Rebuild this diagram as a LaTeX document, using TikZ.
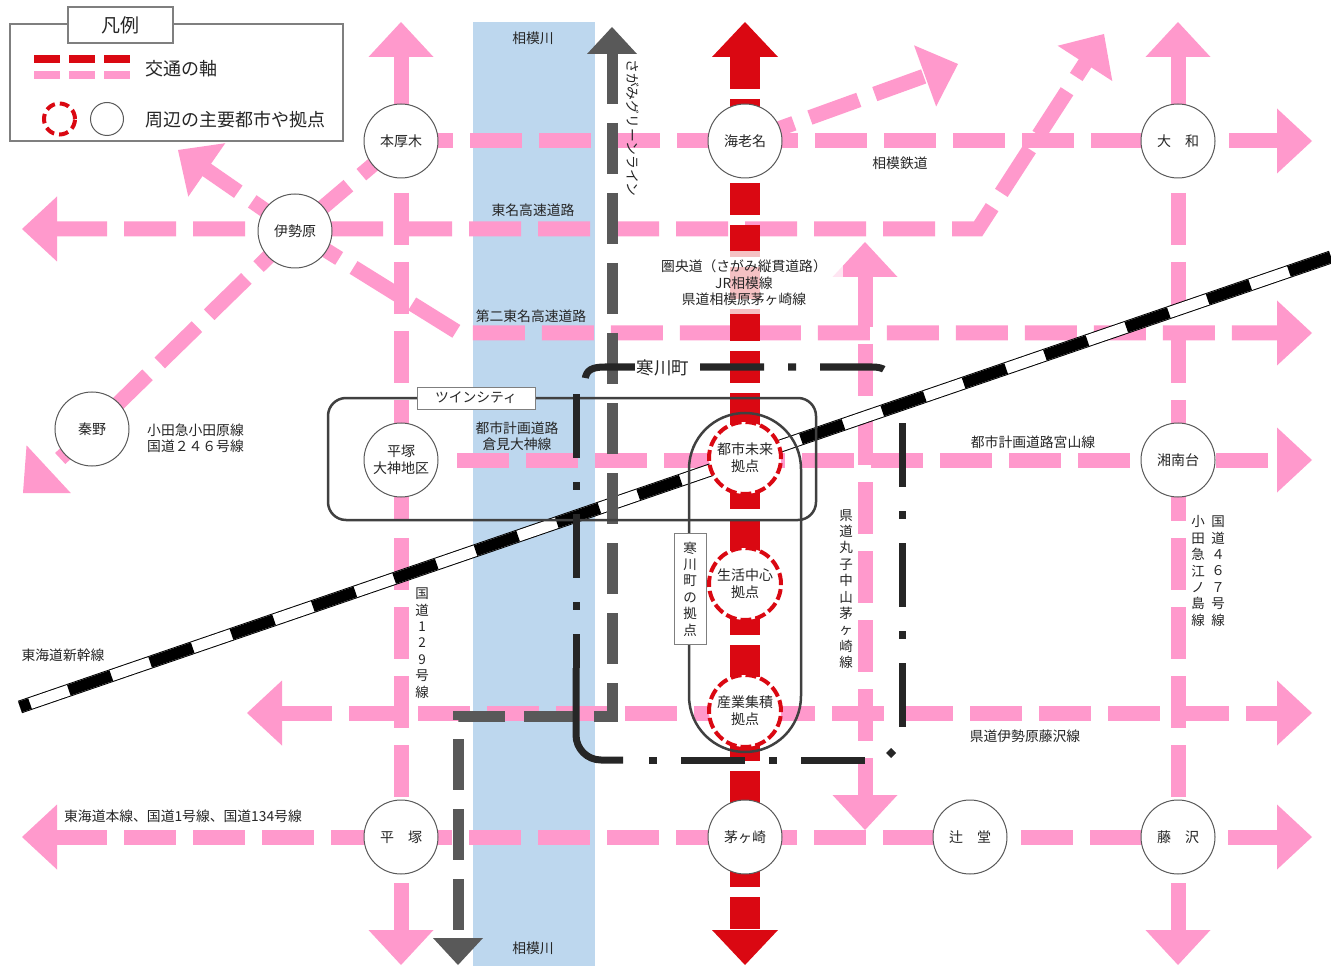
\documentclass[tikz,border=0pt]{standalone}
\usepackage{fontspec}
\setmainfont{Noto Sans CJK JP}
\usetikzlibrary{calc}
\pgfdeclarelayer{river}
\pgfdeclarelayer{roads}
\pgfdeclarelayer{redl}
\pgfdeclarelayer{over}
\pgfsetlayers{river,roads,redl,over,main}
\definecolor{pinkc}{HTML}{FF99CC}
\definecolor{redc}{HTML}{DA0812}
\definecolor{riverc}{HTML}{BDD7EE}
\definecolor{grayl}{HTML}{595959}
\definecolor{blk}{HTML}{262626}
\definecolor{boxl}{HTML}{404040}
\definecolor{txt}{HTML}{262626}
\definecolor{nodeb}{HTML}{595959}
\definecolor{legb}{HTML}{7F7F7F}
\newcommand\ahead[5]{%
  \coordinate (htB) at ($(#2)!#4!(#3)$);
  \fill[#1] (#2) -- ($(htB)!#5!90:(#2)$) -- ($(htB)!#5!-90:(#2)$) -- cycle;}
\begin{document}
\begin{tikzpicture}[x=1pt,y=-1pt,
  pinkroad/.style={draw=pinkc, line width=15pt, dash pattern=on 52pt off 17pt, line cap=butt},
  redroad/.style={draw=redc, line width=30pt, dash pattern=on 32pt off 10pt, line cap=butt},
  greenline/.style={draw=grayl, line width=11pt, dash pattern=on 51pt off 19pt, line cap=butt},
  sam/.style={draw=blk, line width=7pt, dash pattern=on 64pt off 24pt on 8pt off 24pt, line cap=butt},
  city/.style={circle, draw=nodeb, line width=1pt, fill=white, minimum size=74pt, inner sep=0pt,
    font=\fontsize{14}{17}\selectfont, text=txt, align=center},
  hub/.style={circle, draw=redc, line width=4pt, dash pattern=on 11pt off 4pt, fill=white,
    minimum size=72pt, inner sep=0pt, font=\fontsize{14}{17}\selectfont, text=txt, align=center},
  lbl/.style={font=\fontsize{13.8}{16.5}\selectfont, text=txt, inner sep=1pt},
  vlbl/.style={font=\fontsize{13.5}{16.4}\selectfont, text=txt, align=center, inner sep=1pt}]
\useasboundingbox (0,0) rectangle (1331,968);

% ---------- nodes ----------
\node[city] (hon) at (401,141) {本厚木};
\node[city] (ebi) at (745,141) {海老名};
\node[city] (yam) at (1178,141) {大　和};
\node[city] (ise) at (295,231) {伊勢原};
\node[city] (hat) at (92,429) {秦野};
\node[city] (hir2) at (401,460) {平塚\\大神地区};
\node[city] (sho) at (1178,460) {湘南台};
\node[city] (hir) at (401,837) {平　塚};
\node[city] (chi) at (745,837) {茅ヶ崎};
\node[city] (tsu) at (970,837) {辻　堂};
\node[city] (fuj) at (1178,837) {藤　沢};
\node[hub] (mir) at (745,458) {都市未来\\拠点};
\node[hub] (sei) at (745,584) {生活中心\\拠点};
\node[hub] (san) at (745,711) {産業集積\\拠点};

% arrow tips and bends
\coordinate (tN401) at (401,22);   \coordinate (tS401) at (401,965);
\coordinate (tN1178) at (1178,22); \coordinate (tS1178) at (1178,965);
\coordinate (tN865) at (865,242);  \coordinate (tS865) at (865,830);
\coordinate (tE141) at (1312,141); \coordinate (tE333) at (1312,333);
\coordinate (tE460) at (1312,460); \coordinate (tE713) at (1312,713);
\coordinate (tE837) at (1312,837);
\coordinate (tW229) at (22,229);   \coordinate (tW713) at (247,713);
\coordinate (tW837) at (22,837);
\coordinate (tSW) at (23,493);     \coordinate (tNW) at (178,150);
\coordinate (tNE1) at (958,64);    \coordinate (tNE2) at (1104,34);
\coordinate (b229) at (978,229);   \coordinate (b333) at (459,333);
\coordinate (s460) at (457,460);
\coordinate (tNr) at (745,22);     \coordinate (tSr) at (745,965);
\coordinate (tNg) at (612,27);     \coordinate (g1) at (612,716);
\coordinate (g2) at (458,716);     \coordinate (tSg) at (458,965);
\coordinate (shA) at (20,707);     \coordinate (shB) at (1331,257);

% ---------- background and river ----------
\begin{pgfonlayer}{river}
\fill[white] (0,0) rectangle (1331,968);
\fill[riverc] (473,22) rectangle (595,966);
\end{pgfonlayer}

% ---------- pink roads ----------
\begin{pgfonlayer}{roads}
\draw[pinkroad, shorten <=33pt, shorten >=33pt] (tN401) -- (tS401);
\ahead{pinkc}{tN401}{tS401}{35pt}{32.5pt}
\ahead{pinkc}{tS401}{tN401}{35pt}{32.5pt}
\draw[pinkroad, shorten <=33pt, shorten >=33pt] (tN1178) -- (tS1178);
\ahead{pinkc}{tN1178}{tS1178}{35pt}{32.5pt}
\ahead{pinkc}{tS1178}{tN1178}{35pt}{32.5pt}
\draw[pinkroad, shorten <=33pt, shorten >=33pt] (tN865) -- (tS865);
\ahead{pinkc}{tN865}{tS865}{35pt}{32.5pt}
\ahead{pinkc}{tS865}{tN865}{35pt}{32.5pt}
\draw[pinkroad, shorten >=33pt] (hon.center) -- (tE141);
\ahead{pinkc}{tE141}{hon.center}{35pt}{32.5pt}
\draw[pinkroad, shorten <=33pt, shorten >=33pt] (tW229) -- (b229) -- (tNE2);
\ahead{pinkc}{tW229}{b229}{35pt}{32.5pt}
\ahead{pinkc}{tNE2}{b229}{35pt}{32.5pt}
\draw[pinkroad, shorten >=33pt] (ise.center) -- (b333) -- (tE333);
\ahead{pinkc}{tE333}{b333}{35pt}{32.5pt}
\draw[pinkroad, shorten >=33pt] (ise.center) -- (tNW);
\ahead{pinkc}{tNW}{ise.center}{35pt}{32.5pt}
\draw[pinkroad, shorten >=33pt] (hon.center) -- (ise.center) -- (hat.center) -- (tSW);
\ahead{pinkc}{tSW}{hat.center}{35pt}{32.5pt}
\draw[pinkroad, shorten >=33pt] (s460) -- (tE460);
\ahead{pinkc}{tE460}{s460}{35pt}{32.5pt}
\draw[pinkroad, shorten <=33pt, shorten >=33pt] (tW713) -- (tE713);
\ahead{pinkc}{tW713}{tE713}{35pt}{32.5pt}
\ahead{pinkc}{tE713}{tW713}{35pt}{32.5pt}
\draw[pinkroad, shorten <=33pt, shorten >=33pt] (tW837) -- (tE837);
\ahead{pinkc}{tW837}{tE837}{35pt}{32.5pt}
\ahead{pinkc}{tE837}{tW837}{35pt}{32.5pt}
\draw[pinkroad, shorten >=33pt] (ebi.center) -- (tNE1);
\ahead{pinkc}{tNE1}{ebi.center}{35pt}{32.5pt}
\end{pgfonlayer}

% ---------- red axis ----------
\begin{pgfonlayer}{redl}
\draw[redroad, shorten <=35pt, shorten >=33pt] (tNr) -- (tSr);
\ahead{redc}{tNr}{tSr}{35pt}{33pt}
\ahead{redc}{tSr}{tNr}{35pt}{33pt}
\end{pgfonlayer}

% ---------- shinkansen, green line, boxes ----------
\begin{pgfonlayer}{over}
\draw[black, line width=13pt] (shA) -- (shB);
\draw[white, line width=11pt] (shA) -- (shB);
\draw[black, line width=11pt, dash pattern=on 45pt off 41pt, dash phase=34.4pt] (shA) -- (shB);
\draw[greenline, shorten <=26pt, shorten >=25pt, line join=miter] (tNg) -- (g1) -- (g2) -- (tSg);
\ahead{grayl}{tNg}{g1}{27pt}{25pt}
\ahead{grayl}{tSg}{g2}{27pt}{25pt}
% twin city and samukawa hub boxes
\draw[boxl, line width=2.5pt, rounded corners=18pt] (328,398) rectangle (816,520);
\draw[boxl, line width=2.5pt, rounded corners=56pt] (689,413) rectangle (801,752);
% samukawa boundary
\draw[sam, dash phase=118pt] (585,380) .. controls (586,370) and (592,367) .. (605,367) -- (872,367) .. controls (884,367) and (889,371) .. (890,380);
\draw[sam] (902,423) -- (902,730);
\draw[sam] (576,394) -- (576,668);
\draw[draw=blk, line width=7pt, rounded corners=25pt] (576,668) -- (576,760) -- (623,760);
\draw[sam, dash pattern=on 8pt off 24pt on 64pt off 24pt] (649,760) -- (870,760);
\fill[blk] (891,748) -- (896,753) -- (891,758) -- (886,753) -- cycle;
\end{pgfonlayer}

% ---------- labels ----------
\node[lbl] (l1) at (533,38) {相模川};
\node[lbl] (l2) at (533,948) {相模川};
\node[lbl, rotate=-90] (l3) at (633,128) {さがみグリーンライン};
\node[lbl] (l4) at (533,210) {東名高速道路};
\node[lbl] (l5) at (531,316) {第二東名高速道路};
\node[lbl] (l6) at (900,163) {相模鉄道};
\node[lbl, fill=white, fill opacity=0.75, text opacity=1, minimum width=197pt, minimum height=63pt, align=center] (l7) at (744,283) {圏央道（さがみ縦貫道路）\\JR相模線\\県道相模原茅ヶ崎線};
\node[fill=white, font=\fontsize{17.5}{20}\selectfont, text=txt, inner sep=2pt] (l8) at (663,368) {寒川町};
\node[draw=legb, line width=0.8pt, fill=white, minimum width=118pt, minimum height=22pt, inner sep=0pt, font=\fontsize{13.8}{16}\selectfont, text=txt] (l9) at (476,398) {ツインシティ};
\node[lbl, align=center] (l10) at (517,436) {都市計画道路\\倉見大神線};
\node[lbl, align=left, anchor=west] (l11) at (146,438) {小田急小田原線\\国道２４６号線};
\node[lbl] (l12) at (63,655) {東海道新幹線};
\node[vlbl] (l13) at (422,643) {国\\道\\1\\2\\9\\号\\線};
\node[vlbl] (l14) at (846,589) {県\\道\\丸\\子\\中\\山\\茅\\ヶ\\崎\\線};
\node[vlbl] (l15) at (1198,571) {小\\田\\急\\江\\ノ\\島\\線};
\node[vlbl] (l16) at (1218,571) {国\\道\\４\\６\\７\\号\\線};
\node[vlbl, draw=legb, line width=0.8pt, fill=white, minimum width=32pt, minimum height=111pt] (l17) at (690,589) {寒\\川\\町\\の\\拠\\点};
\node[lbl] (l18) at (1033,442) {都市計画道路宮山線};
\node[lbl] (l19) at (1025,736) {県道伊勢原藤沢線};
\node[lbl] (l20) at (183,816) {東海道本線、国道1号線、国道134号線};

% ---------- legend ----------
\draw[legb, line width=1.2pt, fill=white] (10,24) rectangle (343,141);
\node[draw=legb, line width=1.2pt, fill=white, minimum width=105pt, minimum height=36pt, inner sep=0pt, font=\fontsize{19}{22}\selectfont, text=txt] (legt) at (120.5,25) {凡例};
\coordinate (lgA) at (34,59); \coordinate (lgB) at (130,59);
\coordinate (lgC) at (34,75); \coordinate (lgD) at (130,75);
\draw[redc, line width=8pt, dash pattern=on 26pt off 9pt] (lgA) -- (lgB);
\draw[pinkc, line width=8pt, dash pattern=on 26pt off 9pt] (lgC) -- (lgD);
\node[circle, draw=redc, line width=4pt, dash pattern=on 9.5pt off 5pt, minimum size=31pt, inner sep=0pt] (lgr) at (59.5,119) {};
\node[circle, draw=nodeb, line width=1pt, minimum size=33pt, inner sep=0pt] (lgg) at (107,119) {};
\node[anchor=west, font=\fontsize{18}{20}\selectfont, text=txt, inner sep=0pt] (lgt1) at (145,69) {交通の軸};
\node[anchor=west, font=\fontsize{18}{20}\selectfont, text=txt, inner sep=0pt] (lgt2) at (145,120) {周辺の主要都市や拠点};
\end{tikzpicture}
\end{document}
